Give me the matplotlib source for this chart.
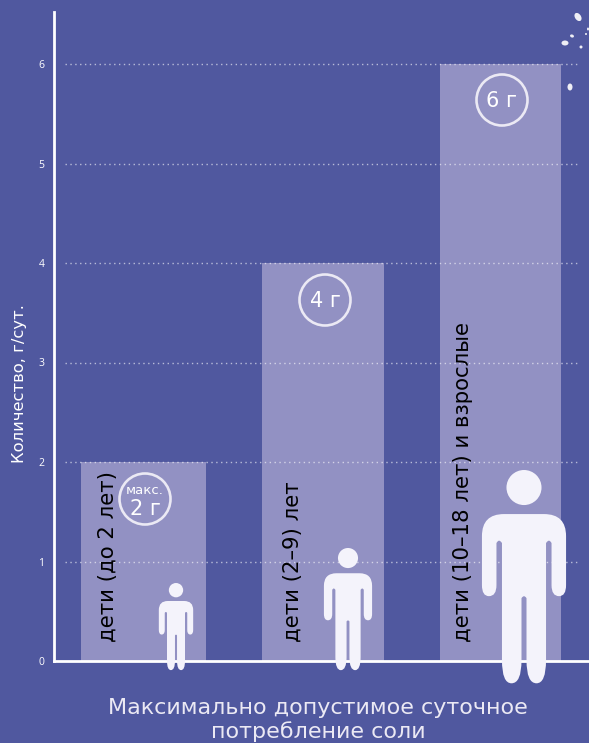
import matplotlib
matplotlib.use('Agg')
import matplotlib.pyplot as plt
from matplotlib.patches import Circle, Ellipse, PathPatch
from matplotlib.path import Path

# data
groups = ['дети (до 2 лет)', 'дети (2–9) лет', 'дети (10–18 лет) и взрослые']
amounts = [2, 4, 6]
badges = ['2 г', '4 г', '6 г']
y_ticks = [0, 1, 2, 3, 4, 5, 6]

BG = '#50589f'
BAR = '#9291c3'
WHITE = '#f4f3fb'

W, H = 589, 743
plt.rcParams['font.family'] = ['DejaVu Sans']

fig = plt.figure(figsize=(W / 100, H / 100), dpi=100, facecolor=BG)

# main axes, x runs in pixels so the bars sit where they do in the picture
ax = fig.add_axes([54 / W, (H - 661) / H, (W - 54) / W, (661 - 12) / H])
ax.set_facecolor(BG)
ax.set_xlim(54, W)
ax.set_ylim(0, 649 / 99.5)

bar_x = [143.5, 323, 500.5]
bar_w = [125, 122, 121]
ax.bar(bar_x, amounts, width=bar_w, color=BAR, zorder=1)

ax.hlines(y_ticks[1:], 65, 578, colors='white', linewidth=1, linestyles=(0, (1, 2.5)), alpha=0.6, zorder=2)

for s in ['top', 'right']:
    ax.spines[s].set_visible(False)
for s in ['left', 'bottom']:
    ax.spines[s].set_color('white')
    ax.spines[s].set_linewidth(2)
    ax.spines[s].set_zorder(3)
ax.set_xticks([])
ax.set_yticks(y_ticks)
ax.tick_params(axis='y', length=0, pad=7, labelsize=7.5, labelcolor='white')
for lab in ax.get_yticklabels():
    lab.set_family('Open Sans')

# overlay in picture pixels for icons, badges and text
ov = fig.add_axes([0, 0, 1, 1], facecolor='none')
ov.set_xlim(0, W)
ov.set_ylim(H, 0)
ov.axis('off')


def person(cx, top, feet):
    # outline drawn for a 213 px figure, then scaled
    k = (feet - top) / 212.7
    ov.add_patch(Circle((cx, top + 17.5 * k), 17.5 * k, color=WHITE, lw=0, zorder=6))
    right = [
        (Path.MOVETO, 0, 514), (Path.LINETO, 20, 514),
        (Path.CURVE3, 42, 514), (Path.CURVE3, 42, 536),
        (Path.LINETO, 42, 585),
        (Path.CURVE3, 42, 596), (Path.CURVE3, 35, 596),
        (Path.CURVE3, 27.5, 596), (Path.CURVE3, 27.5, 585),
        (Path.LINETO, 27.5, 543),
        (Path.CURVE3, 25, 538), (Path.CURVE3, 22, 543),
        (Path.LINETO, 22, 660),
        (Path.CURVE3, 22, 683), (Path.CURVE3, 12.5, 683),
        (Path.CURVE3, 2.5, 683), (Path.CURVE3, 2.5, 660),
        (Path.LINETO, 2.5, 598),
        (Path.CURVE3, 0, 594), (Path.CURVE3, -2.5, 598),
    ]
    left = [
        (Path.LINETO, -2.5, 660),
        (Path.CURVE3, -2.5, 683), (Path.CURVE3, -12.5, 683),
        (Path.CURVE3, -22, 683), (Path.CURVE3, -22, 660),
        (Path.LINETO, -22, 543),
        (Path.CURVE3, -25, 538), (Path.CURVE3, -27.5, 543),
        (Path.LINETO, -27.5, 585),
        (Path.CURVE3, -27.5, 596), (Path.CURVE3, -35, 596),
        (Path.CURVE3, -42, 596), (Path.CURVE3, -42, 585),
        (Path.LINETO, -42, 536),
        (Path.CURVE3, -42, 514), (Path.CURVE3, -20, 514),
        (Path.CLOSEPOLY, 0, 514),
    ]
    pts = right + left
    verts = [(cx + p[1] * k, top + (p[2] - 470) * k) for p in pts]
    codes = [p[0] for p in pts]
    ov.add_patch(PathPatch(Path(verts, codes), facecolor=WHITE, lw=0, zorder=6))


person(176, 583, 670)
person(348, 548, 670)
person(524, 470, 683)

# circles with the amounts
badge_xy = [(145, 499), (325, 300), (502, 100)]
for (x, y), txt in zip(badge_xy, badges):
    ov.add_patch(Circle((x, y), 25.5, fill=False, ec='#ebe9f4', lw=1.9, zorder=5))
    if txt == '2 г':
        ov.text(x, y - 8, 'макс.', color='white', fontsize=9.5, ha='center', va='center', zorder=6)
        ov.text(x, y + 10, txt, color='white', fontsize=15, ha='center', va='center', zorder=6)
    else:
        ov.text(x, y + 1, txt, color='white', fontsize=15, ha='center', va='center', zorder=6)

label_x = [108, 293, 463]
for x, txt in zip(label_x, groups):
    ov.text(x, 642, txt, rotation=90, color='black', fontsize=15.3, ha='center', va='bottom', zorder=4)

ov.text(20, 384, 'Количество, г/сут.', rotation=90, color='white', fontsize=11.8, ha='center', va='center')
ov.text(318, 720, 'Максимально допустимое суточное\nпотребление соли', color='#ebe9f4', fontsize=16,
        ha='center', va='center', linespacing=1.2, zorder=4)

# salt grains, top right
grains = [(578, 17, 6, 9, -35), (565, 43, 7, 5, 0), (572, 36, 4, 3, 20), (581, 47, 3, 3, 0),
          (588, 29, 2, 3, 0), (570, 87, 5, 7, 0), (586, 34, 2, 2, 0)]
for x, y, w, h, a in grains:
    ov.add_patch(Ellipse((x, y), w, h, angle=a, color='#eeeef5', lw=0, zorder=4))

fig.savefig('out.png', dpi=100, facecolor=BG)
